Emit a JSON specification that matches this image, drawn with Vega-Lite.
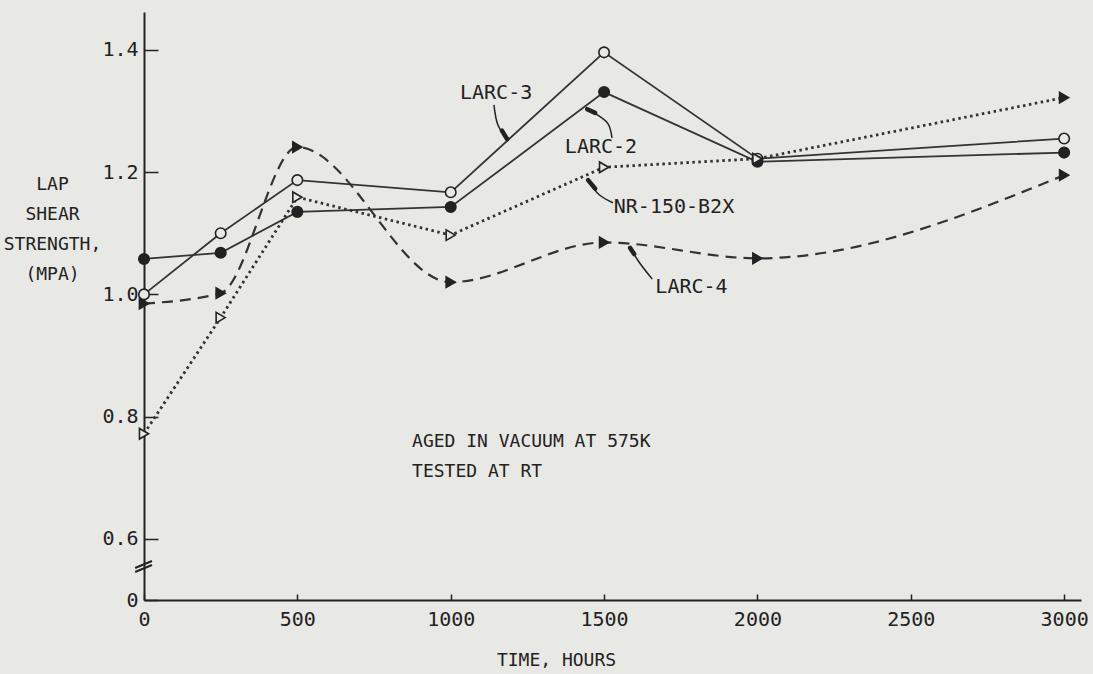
{
  "$schema": "https://vega.github.io/schema/vega-lite/v6.json",
  "width": 937,
  "height": 588,
  "autosize": {"type": "none"},
  "padding": {"left": 144, "top": 12, "right": 12, "bottom": 74},
  "background": "#e8e8e5",
  "config": {"view": {"stroke": null}, "font": "DejaVu Sans Mono"},
  "datasets": {
    "series": [
      {"series": "LARC-3", "t": 0, "v": 1.0},
      {"series": "LARC-3", "t": 250, "v": 1.10},
      {"series": "LARC-3", "t": 500, "v": 1.187},
      {"series": "LARC-3", "t": 1000, "v": 1.167},
      {"series": "LARC-3", "t": 1500, "v": 1.396},
      {"series": "LARC-3", "t": 2000, "v": 1.222},
      {"series": "LARC-3", "t": 3000, "v": 1.255},
      {"series": "LARC-2", "t": 0, "v": 1.058},
      {"series": "LARC-2", "t": 250, "v": 1.068},
      {"series": "LARC-2", "t": 500, "v": 1.135},
      {"series": "LARC-2", "t": 1000, "v": 1.143},
      {"series": "LARC-2", "t": 1500, "v": 1.331},
      {"series": "LARC-2", "t": 2000, "v": 1.217},
      {"series": "LARC-2", "t": 3000, "v": 1.232},
      {"series": "NR-150-B2X", "t": 0, "v": 0.772},
      {"series": "NR-150-B2X", "t": 250, "v": 0.962},
      {"series": "NR-150-B2X", "t": 500, "v": 1.159},
      {"series": "NR-150-B2X", "t": 1000, "v": 1.097},
      {"series": "NR-150-B2X", "t": 1500, "v": 1.208},
      {"series": "NR-150-B2X", "t": 2000, "v": 1.222},
      {"series": "NR-150-B2X", "t": 3000, "v": 1.322},
      {"series": "LARC-4", "t": 0, "v": 0.985},
      {"series": "LARC-4", "t": 250, "v": 1.002},
      {"series": "LARC-4", "t": 500, "v": 1.241},
      {"series": "LARC-4", "t": 1000, "v": 1.020},
      {"series": "LARC-4", "t": 1500, "v": 1.085},
      {"series": "LARC-4", "t": 2000, "v": 1.059},
      {"series": "LARC-4", "t": 3000, "v": 1.195}
    ],
    "labels": [
      {"label": "LARC-3", "t": 1148, "v": 1.330},
      {"label": "LARC-2", "t": 1490, "v": 1.241},
      {"label": "NR-150-B2X", "t": 1728, "v": 1.143},
      {"label": "LARC-4", "t": 1785, "v": 1.012}
    ],
    "leaders": [
      {"leader": "LARC-3", "o": 1, "t": 1141, "v": 1.310},
      {"leader": "LARC-3", "o": 2, "t": 1154, "v": 1.277},
      {"leader": "LARC-3", "o": 3, "t": 1184, "v": 1.254},
      {"leader": "LARC-2", "o": 1, "t": 1526, "v": 1.256},
      {"leader": "LARC-2", "o": 2, "t": 1513, "v": 1.279},
      {"leader": "LARC-2", "o": 3, "t": 1477, "v": 1.294},
      {"leader": "LARC-2", "o": 4, "t": 1445, "v": 1.303},
      {"leader": "NR-150-B2X", "o": 1, "t": 1529, "v": 1.150},
      {"leader": "NR-150-B2X", "o": 2, "t": 1484, "v": 1.163},
      {"leader": "NR-150-B2X", "o": 3, "t": 1448, "v": 1.187},
      {"leader": "LARC-4", "o": 1, "t": 1657, "v": 1.025},
      {"leader": "LARC-4", "o": 2, "t": 1614, "v": 1.053},
      {"leader": "LARC-4", "o": 3, "t": 1585, "v": 1.076}
    ],
    "heads": [
      {"t": 1167, "v": 1.268, "t2": 1184, "v2": 1.254},
      {"t": 1471, "v": 1.297, "t2": 1445, "v2": 1.303},
      {"t": 1471, "v": 1.173, "t2": 1448, "v2": 1.187},
      {"t": 1598, "v": 1.066, "t2": 1585, "v2": 1.076}
    ],
    "notes": [
      {"note": "AGED IN VACUUM AT 575K", "t": 874, "v": 0.750},
      {"note": "TESTED AT RT", "t": 874, "v": 0.701}
    ],
    "breaks": [
      {"t": -29, "v": 0.5524, "t2": 26, "v2": 0.5638},
      {"t": -29, "v": 0.5458, "t2": 26, "v2": 0.5573}
    ]
  },
  "encoding": {
    "x": {
      "field": "t",
      "type": "quantitative",
      "scale": {"domain": [0, 3055], "nice": false, "zero": false},
      "axis": {
        "values": [0, 500, 1000, 1500, 2000, 2500, 3000],
        "format": "d",
        "grid": false,
        "domainColor": "#222",
        "domainWidth": 2,
        "tickColor": "#222",
        "tickWidth": 1.5,
        "tickSize": -6,
        "labelPadding": 15,
        "labelFont": "DejaVu Sans Mono",
        "labelFontSize": 20,
        "labelColor": "#222",
        "labelFlush": false,
        "labelOverlap": false,
        "title": "TIME, HOURS",
        "titleFont": "DejaVu Sans Mono",
        "titleFontSize": 18,
        "titleFontWeight": "normal",
        "titleColor": "#222",
        "titleX": 412,
        "titleY": 60,
        "titleAlign": "center",
        "titleBaseline": "middle"
      }
    },
    "y": {
      "field": "v",
      "type": "quantitative",
      "scale": {"domain": [0.5, 1.462], "nice": false, "zero": false},
      "axis": {
        "values": [0.5, 0.6, 0.8, 1.0, 1.2, 1.4],
        "labelExpr": "datum.value < 0.55 ? '0' : format(datum.value, '.1f')",
        "grid": false,
        "domainColor": "#222",
        "domainWidth": 2,
        "tickColor": "#222",
        "tickWidth": 1.5,
        "tickSize": -14,
        "labelPadding": 20,
        "labelFont": "DejaVu Sans Mono",
        "labelFontSize": 20,
        "labelColor": "#222",
        "labelFlush": false,
        "labelOverlap": false,
        "title": ["LAP", "SHEAR", "STRENGTH,", "(MPA)"],
        "titleAngle": 0,
        "titleFont": "DejaVu Sans Mono",
        "titleFontSize": 18,
        "titleFontWeight": "normal",
        "titleColor": "#222",
        "titleX": -92,
        "titleY": 163,
        "titleAlign": "center",
        "titleBaseline": "top",
        "titleLineHeight": 30
      }
    }
  },
  "layer": [
    {
      "data": {"name": "series"},
      "transform": [{"filter": "datum.series === 'LARC-3'"}],
      "mark": {"type": "line", "color": "#333", "strokeWidth": 1.8},
      "encoding": {}
    },
    {
      "data": {"name": "series"},
      "transform": [{"filter": "datum.series === 'LARC-2'"}],
      "mark": {"type": "line", "color": "#333", "strokeWidth": 1.8},
      "encoding": {}
    },
    {
      "data": {"name": "series"},
      "transform": [{"filter": "datum.series === 'NR-150-B2X'"}],
      "mark": {"type": "line", "color": "#333", "strokeWidth": 2.8, "strokeDash": [2.5, 3.5], "strokeCap": "butt"},
      "encoding": {}
    },
    {
      "data": {"name": "series"},
      "transform": [{"filter": "datum.series === 'LARC-4'"}],
      "mark": {"type": "line", "color": "#333", "strokeWidth": 2.2, "strokeDash": [11, 7], "interpolate": "monotone"},
      "encoding": {}
    },
    {
      "data": {"name": "series"},
      "mark": {"type": "point", "filled": true, "stroke": "#222", "strokeWidth": 1.6, "opacity": 1},
      "encoding": {
        "shape": {
          "field": "series",
          "type": "nominal",
          "scale": {"domain": ["LARC-3", "LARC-2", "NR-150-B2X", "LARC-4"], "range": ["circle", "circle", "triangle-right", "triangle-right"]},
          "legend": null
        },
        "size": {
          "field": "series",
          "type": "nominal",
          "scale": {"domain": ["LARC-3", "LARC-2", "NR-150-B2X", "LARC-4"], "range": [110, 110, 150, 150]},
          "legend": null
        },
        "fill": {
          "condition": {
            "test": "datum.series === 'LARC-2' || datum.series === 'LARC-4' || (datum.series === 'NR-150-B2X' && datum.t === 3000)",
            "value": "#222"
          },
          "value": "#e8e8e5"
        }
      }
    },
    {
      "data": {"name": "leaders"},
      "mark": {"type": "line", "color": "#222", "strokeWidth": 1.5, "interpolate": "catmull-rom"},
      "encoding": {
        "detail": {"field": "leader", "type": "nominal"},
        "order": {"field": "o", "type": "quantitative"}
      }
    },
    {
      "data": {"name": "heads"},
      "mark": {"type": "rule", "color": "#222", "strokeWidth": 4.5, "strokeCap": "round"},
      "encoding": {
        "x2": {"field": "t2"},
        "y2": {"field": "v2"}
      }
    },
    {
      "data": {"name": "breaks"},
      "mark": {"type": "rule", "color": "#222", "strokeWidth": 2},
      "encoding": {
        "x2": {"field": "t2"},
        "y2": {"field": "v2"}
      }
    },
    {
      "data": {"name": "labels"},
      "mark": {"type": "text", "font": "DejaVu Sans Mono", "fontSize": 20, "color": "#222", "align": "center", "baseline": "middle"},
      "encoding": {"text": {"field": "label"}}
    },
    {
      "data": {"name": "notes"},
      "mark": {"type": "text", "font": "DejaVu Sans Mono", "fontSize": 18, "color": "#222", "align": "left", "baseline": "alphabetic"},
      "encoding": {"text": {"field": "note"}}
    }
  ]
}
